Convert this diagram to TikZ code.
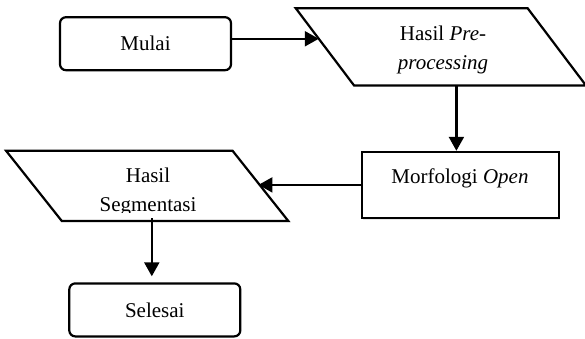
\documentclass[tikz,border=0pt]{standalone}
\usepackage{fontspec}
\setmainfont{Liberation Serif}
\usetikzlibrary{arrows.meta,shadows,calc}
\begin{document}
\begin{tikzpicture}[x=1pt,y=-1pt,
  every node/.style={font=\fontsize{21}{29}\selectfont},
  line width=2.2pt,
  terminal/.style={draw, rounded corners=6pt, minimum width=171pt,
    minimum height=53pt, inner sep=0pt},
  iobox/.style={minimum width=#1, inner sep=0pt},
  process/.style={draw, rectangle, fill=white, minimum width=197pt,
    minimum height=66pt, inner sep=0pt,
    drop shadow={shadow xshift=1.5pt, shadow yshift=-2.5pt, opacity=0.2}},
  inside/.style={align=center, inner sep=0pt},
  outline/.style={line width=2.2pt, line join=miter},
  arr/.style={-{Triangle[length=14pt,width=15pt]}, line width=2.2pt}]

\useasboundingbox (0,0) rectangle (585,338);

% boxes framing the two data (parallelogram) symbols
\node[iobox=288pt, minimum height=75pt] (pre) at (440.8,46.8) {};
\node[iobox=280pt, minimum height=68pt] (seg) at (147.2,185.9) {};

% parallelogram outlines, slanted by 58.3pt and 55.7pt
\draw[outline] (pre.north west) -- ([xshift=-58.3pt]pre.north east)
  -- (pre.south east) -- ([xshift=58.3pt]pre.south west) -- cycle;
\draw[outline] (seg.north west) -- ([xshift=-55.7pt]seg.north east)
  -- (seg.south east) -- ([xshift=55.7pt]seg.south west) -- cycle;

% remaining shapes
\node[terminal] (mulai) at (145.5,43.7) {Mulai};
\node[process] (morf) at (460.4,184.9) {};
\node[terminal] (sel) at (154.8,309.9) {Selesai};

% texts
\node[inside] (preText) at (443,50.4) {Hasil \textit{Pre-}\\\textit{processing}};
\node[inside, anchor=base] (morfText) at (460,183.3) {Morfologi \textit{Open}};
\begin{scope}
  \clip (seg.north west) rectangle ([yshift=8.5pt]seg.south east);
  \node[inside] (segText) at (148,191.7) {Hasil\\Segmentasi};
\end{scope}

% connectors
\coordinate (inPre) at ($(pre.north west)!0.396!([xshift=58.3pt]pre.south west)$);
\draw[arr] (mulai.east |- inPre) -- (inPre);

\coordinate (mTop) at ([xshift=-4pt]morf.north);
\draw[arr] (pre.south -| mTop) -- (mTop);

\coordinate (segRight) at ($([xshift=-55.7pt]seg.north east)!0.5!(seg.south east)$);
\draw[arr, shorten >=-2pt] (morf.west) -- (morf.west -| segRight);

\coordinate (sTop) at ([xshift=-3pt,yshift=6pt]sel.north);
\coordinate (sBot) at ([yshift=3pt]seg.south);
\draw[arr] (sBot -| sTop) -- (sTop);
\end{tikzpicture}
\end{document}
